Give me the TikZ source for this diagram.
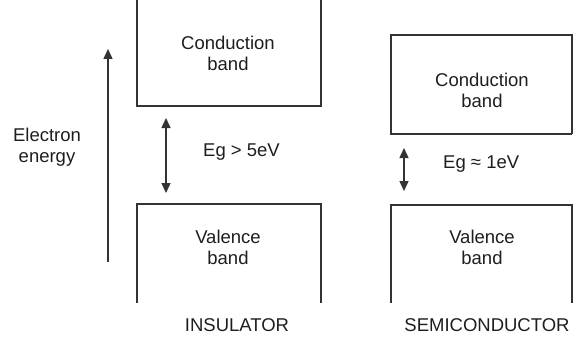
\documentclass[tikz,border=0pt]{standalone}
\usepackage{fontspec}
\setmainfont{Liberation Sans}
\usetikzlibrary{arrows.meta}
\definecolor{ln}{HTML}{333333}
\definecolor{tx}{HTML}{1E1E1E}
\begin{document}
\begin{tikzpicture}[x=1pt,y=-1pt,
  band/.style={draw=ln,line width=1.5pt},
  lbl/.style={text=tx,font=\fontsize{18.5}{21}\selectfont,align=center,inner sep=0pt},
  arr/.style={draw=ln,line width=1.4pt,-{Triangle[length=10pt,width=9pt]}},
  darr/.style={draw=ln,line width=1.4pt,{Triangle[length=10pt,width=9pt]}-{Triangle[length=10pt,width=9pt]}}]
\useasboundingbox (0,0) rectangle (573,337);
% insulator bands
\draw[band] (137,0) -- (137,106) -- (321,106) -- (321,0);
\draw[band] (137,303) -- (137,204) -- (321,204) -- (321,303);
% semiconductor bands
\draw[band] (572,134) -- (391,134) -- (391,35) -- (572,35) -- (572,134);
\draw[band] (391,303) -- (391,205) -- (572,205) -- (572,303);
% labels
\node[lbl] (cb1) at (228,53) {Conduction\\band};
\node[lbl] (vb1) at (228,247) {Valence\\band};
\node[lbl] (cb2) at (482,90) {Conduction\\band};
\node[lbl] (vb2) at (482,247) {Valence\\band};
\node[lbl] (ins) at (237,325) {INSULATOR};
\node[lbl] (sem) at (487,325) {SEMICONDUCTOR};
\node[lbl] (ee) at (47,147) {Electron\\energy};
\node[lbl,anchor=west] (eg1) at (203,152) {Eg > 5eV};
\node[lbl,anchor=west] (eg2) at (443,164) {Eg ≈ 1eV};
% arrows
\coordinate (e0) at (108,262);
\coordinate (e1) at (108,49);
\draw[arr] (e0) -- (e1);
\coordinate (g1a) at (166,118);
\coordinate (g1b) at (166,193);
\draw[darr] (g1a) -- (g1b);
\coordinate (g2a) at (404,148);
\coordinate (g2b) at (404,191);
\draw[darr] (g2a) -- (g2b);
\end{tikzpicture}
\end{document}
